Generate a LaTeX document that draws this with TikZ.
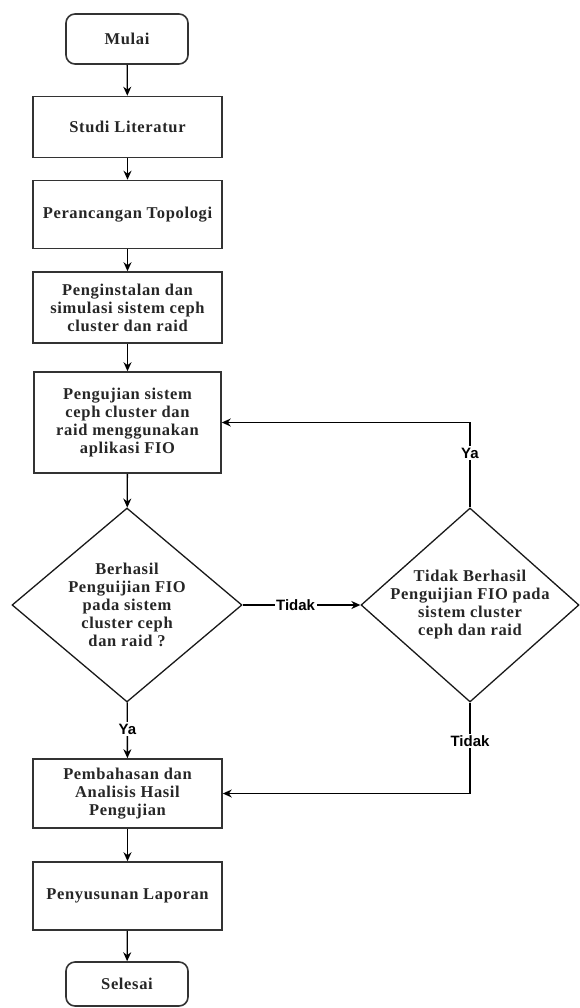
\documentclass[tikz,border=0pt]{standalone}
\usepackage{fontspec}
\setmainfont{Liberation Serif}
\setsansfont{Liberation Sans}
\newfontfamily\boxfont{Liberation Serif}[LetterSpace=4]
\usetikzlibrary{shapes.geometric,arrows.meta}

\tikzset{
  boxtext/.style={align=center, text=black!85, font=\boxfont\bfseries\fontsize{16.5}{18}\selectfont},
  process/.style={boxtext, draw=black!80, line width=1.6pt, minimum width=189pt, inner sep=0pt},
  terminal/.style={process, rounded corners=9pt, minimum width=122pt},
  decision/.style={diamond, draw=black!90, line width=1.3pt, inner sep=0pt},
  flow/.style={line width=1.3pt, -{Stealth[length=9pt,width=8pt]}},
  answer/.style={fill=white, font=\sffamily\bfseries\fontsize{15}{17}\selectfont, inner sep=1.5pt}
}

\begin{document}
\begin{tikzpicture}[x=1pt,y=-1pt]
\useasboundingbox (0,0) rectangle (580,1008);

% main column
\node[terminal, minimum height=50pt] (mulai) at (127,39) {Mulai};
\node[process, minimum height=61pt] (studi) at (127.5,127) {Studi Literatur};
\node[process, minimum height=68pt] (topologi) at (127.5,214.5) {Perancangan Topologi};
\node[process, minimum height=71pt] (instal) at (127.5,307.5) {Penginstalan dan\\simulasi sistem ceph\\cluster dan raid};
\node[process, minimum height=101pt, minimum width=187pt] (uji) at (127.5,422.5) {Pengujian sistem\\ceph cluster dan\\raid menggunakan\\aplikasi FIO};

% decisions
\node[decision, minimum width=230pt, minimum height=194pt,
  label={[boxtext]center:{Berhasil\\Penguijian FIO\\pada sistem\\cluster ceph\\dan raid ?}}] (cek) at (127,605) {};
\node[decision, minimum width=218pt, minimum height=194pt,
  label={[boxtext]center:{Tidak Berhasil\\Penguijian FIO pada\\sistem cluster\\ceph dan raid}}] (gagal) at (470,605) {};

\node[process, minimum height=69pt] (bahas) at (127.5,793.5) {Pembahasan dan\\Analisis Hasil\\Pengujian};
\node[process, minimum height=68pt] (lapor) at (127.5,896) {Penyusunan Laporan};
\node[terminal, minimum height=44pt] (selesai) at (127,984) {Selesai};

% arrows
\draw[flow] (mulai) -- (studi);
\draw[flow] (studi) -- (topologi);
\draw[flow] (topologi) -- (instal);
\draw[flow] (instal) -- (uji);
\draw[flow] (uji) -- (cek);
\draw[flow] (cek) -- node[answer, pos=0.45] {Tidak} (gagal);
\draw[flow] (gagal.north) |- node[answer, pos=0.32] {Ya} (uji.east);
\draw[flow] (cek) -- node[answer, pos=0.48] {Ya} (bahas);
\draw[flow] (gagal.south) |- node[answer, pos=0.21] {Tidak} (bahas.east);
\draw[flow] (bahas) -- (lapor);
\draw[flow] (lapor) -- (selesai);
\end{tikzpicture}
\end{document}
